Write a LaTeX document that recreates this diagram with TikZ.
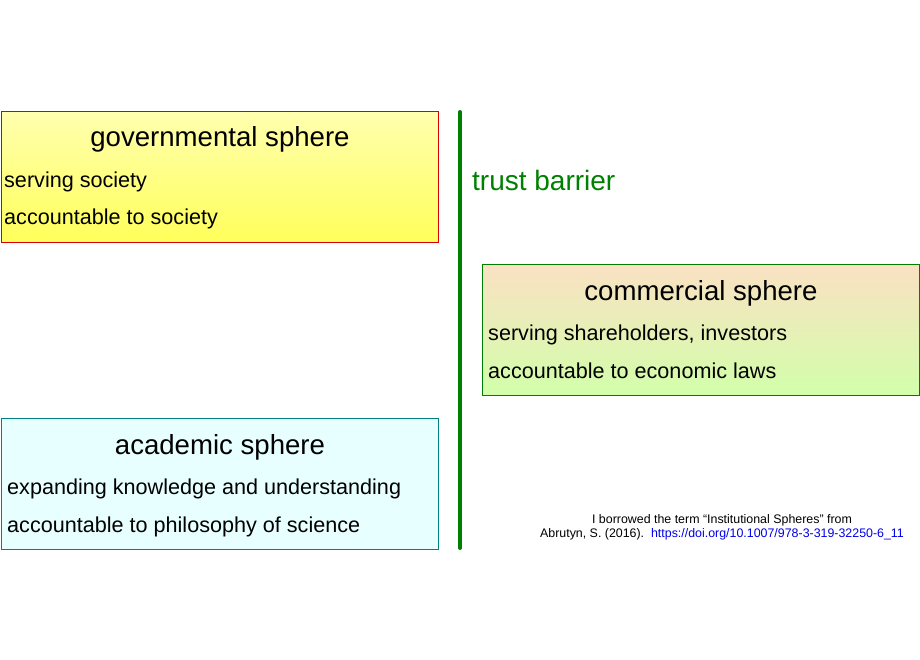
\documentclass[tikz,border=0pt]{standalone}
\usepackage{fontspec}
\setmainfont{Liberation Sans}
\definecolor{barrier}{RGB}{0,128,0}
\definecolor{govtop}{RGB}{255,255,175}
\definecolor{govbot}{RGB}{255,255,90}
\definecolor{comtop}{RGB}{250,225,195}
\definecolor{combot}{RGB}{210,255,170}
\definecolor{acafill}{RGB}{232,255,255}
\definecolor{acaline}{RGB}{0,128,128}
\definecolor{doiblue}{RGB}{0,0,230}
\begin{document}
\begin{tikzpicture}[x=1pt,y=-1pt,
  sphere/.style={line width=0.8pt,minimum width=437pt,minimum height=131pt,inner sep=0pt,anchor=north west},
  title/.style={font=\fontsize{27.6}{32}\selectfont,anchor=base,inner sep=0pt},
  item/.style={font=\fontsize{21.6}{26}\selectfont,anchor=base west,inner sep=0pt},
  note/.style={font=\fontsize{12.4}{15}\selectfont,anchor=base,inner sep=0pt}]
  \useasboundingbox (0,0) rectangle (920,660);
  % spheres
  \node[sphere,draw=red!85!black,top color=govtop,bottom color=govbot] (gov) at (1,111) {};
  \node[title] (govtitle) at (220,147) {governmental sphere};
  \node[item] (govserve) at (4,188) {serving society};
  \node[item] (govacc) at (4,225) {accountable to society};
  \node[sphere,draw=barrier,top color=comtop,bottom color=combot] (com) at (482,264) {};
  \node[title] (comtitle) at (701,300) {commercial sphere};
  \node[item] (comserve) at (488,340) {serving shareholders, investors};
  \node[item] (comacc) at (488,378) {accountable to economic laws};
  \node[sphere,draw=acaline,fill=acafill] (aca) at (1,418) {};
  \node[title] (acatitle) at (220,454) {academic sphere};
  \node[item] (acaserve) at (7,494) {expanding knowledge and understanding};
  \node[item] (acaacc) at (7,532) {accountable to philosophy of science};
  % trust barrier
  \coordinate (bartop) at (460,112);
  \coordinate (barbot) at (460,548);
  \draw[barrier,line width=4pt,line cap=round] (bartop) -- (barbot);
  \node[font=\fontsize{28}{32}\selectfont,text=barrier,anchor=base west,inner sep=0pt] (trust) at (472,191) {trust barrier};
  % source
  \node[note] (borrow) at (722,523) {I borrowed the term “Institutional Spheres” from};
  \node[note] (source) at (722,537) {Abrutyn, S. (2016).\ \ \textcolor{doiblue}{https://doi.org/10.1007/978-3-319-32250-6\_11}};
\end{tikzpicture}
\end{document}
